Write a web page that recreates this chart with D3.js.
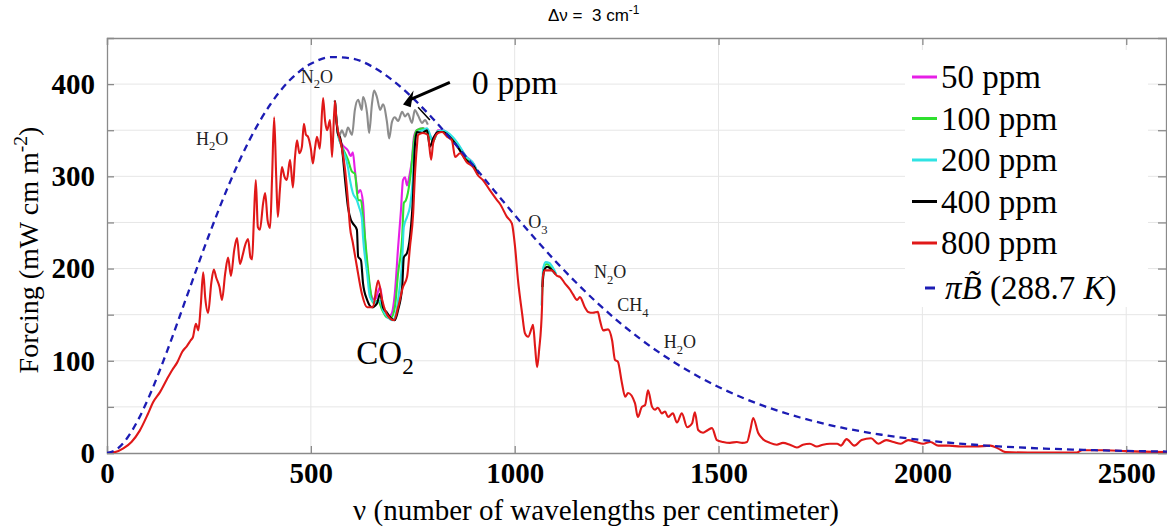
<!DOCTYPE html>
<html>
<head>
<meta charset="utf-8">
<script src="https://cdn.jsdelivr.net/npm/d3@7"></script>
<style>
  body { margin: 0; background: #fff; }
  svg { display: block; }
</style>
</head>
<body>
<div id="chart"></div>
<script>
/***** Data : [wavenumber cm-1, forcing mW m-2 (cm-1)-1] *****/
var ppm800 = [[0,0],[20,1],[40,5],[60,12],[80,24],[100,42],[113,55],[130,66],[147,80],[160,90],[172,98],[185,110],[196,116],[205,122],[211,126],[218,140],[224,133],[230,160],[236,196],[241,168],[248,152],[256,185],[262,199],[268,190],[276,180],[282,166],[290,195],[297,212],[304,192],[312,220],[319,233],[326,205],[333,215],[338,224],[346,232],[352,212],[356,210],[360,250],[365,296],[370,245],[375,242],[383,271],[388,282],[394,252],[400,244],[405,300],[410,364],[415,300],[419,256],[424,285],[429,310],[435,300],[441,296],[449,318],[456,288],[461,320],[466,339],[472,325],[478,332],[483,357],[488,345],[493,343],[500,330],[505,314],[510,330],[515,343],[522,330],[530,385],[535,360],[540,350],[547,361],[552,321],[559,382],[563,360],[567,348],[576,331],[584,307],[591,274],[596,245],[603,228],[613,202],[625,173],[638,158],[652,158],[665,187],[675,166],[682,155],[694,146],[704,144],[714,158],[726,180],[736,191],[743,223],[751,260],[755,299],[760,332],[763,345],[775,347],[787,345],[795,318],[800,336],[812,347],[822,348],[834,343],[846,339],[854,321],[866,325],[883,315],[898,310],[910,301],[922,296],[939,285],[957,274],[964,270],[981,256],[993,249],[1001,223],[1008,188],[1018,152],[1025,130],[1033,126],[1042,136],[1045,139],[1050,115],[1055,93],[1060,112],[1067,158],[1069,191],[1074,198],[1079,198],[1091,198],[1104,192],[1111,191],[1123,184],[1136,177],[1143,172],[1153,166],[1160,169],[1172,158],[1180,153],[1192,152],[1204,153],[1209,144],[1217,133],[1229,134],[1239,122],[1246,101],[1253,99],[1263,76],[1271,61],[1278,65],[1295,54],[1302,39],[1312,50],[1320,52],[1327,68],[1337,50],[1344,47],[1351,49],[1361,43],[1369,45],[1376,39],[1388,43],[1398,33],[1410,43],[1423,28],[1435,32],[1442,44],[1450,25],[1462,22],[1474,25],[1484,27],[1496,14],[1511,12],[1528,11],[1545,12],[1558,11],[1570,12],[1578,25],[1585,38],[1597,22],[1609,15],[1626,11],[1643,9],[1658,11],[1675,9],[1692,6],[1707,9],[1724,10],[1741,7],[1756,9],[1773,10],[1791,10],[1800,8],[1814,15],[1833,8],[1851,14],[1874,16],[1892,10],[1911,14],[1929,12],[1947,10],[1965,14],[1984,12],[2002,10],[2020,12],[2039,8],[2066,8],[2094,7],[2131,7],[2167,8],[2185,5],[2204,1],[2259,0.5],[2378,0.5],[2392,3],[2450,3],[2500,2],[2600,1]];

var ppm400 = [[559,382],[567,345],[571,343],[576,332],[584,296],[591,267],[598,253],[603,249],[613,242],[616,213],[623,209],[628,184],[638,166],[650,158],[662,162],[670,173],[677,158],[687,152],[697,146],[706,144],[714,155],[724,180],[728,212],[736,217],[743,234],[751,282],[755,332],[760,348],[773,347],[785,350],[792,332],[800,341],[812,348],[824,348],[840,343],[860,332],[880,318],[900,311],[910,302],[920,null],[1068,180],[1072,198],[1080,202],[1090,199],[1100,194]];

var ppm200 = [[559,382],[567,345],[576,332],[591,310],[596,296],[603,282],[613,274],[618,267],[625,255],[628,234],[638,195],[645,169],[657,163],[670,165],[677,155],[689,147],[701,144],[709,152],[716,173],[724,209],[728,245],[736,256],[743,267],[751,303],[755,336],[763,348],[775,350],[785,352],[800,338],[812,349],[824,350],[840,346],[860,336],[880,322],[900,313],[910,303],[920,null],[1066,160],[1070,200],[1076,207],[1085,206],[1095,200],[1102,194]];

var ppm100 = [[559,382],[567,345],[576,333],[591,318],[601,305],[608,303],[616,274],[623,274],[628,256],[638,209],[645,180],[652,163],[665,165],[675,155],[687,147],[697,147],[706,158],[714,195],[724,234],[728,271],[733,274],[738,282],[746,307],[753,339],[760,350],[775,352],[787,347],[800,338],[812,349],[824,349],[840,344],[860,333],[880,320],[900,312],[910,302],[920,null],[1067,170],[1072,203],[1080,205],[1090,200],[1100,195]];

var ppm50 = [[559,382],[567,345],[576,335],[591,328],[598,322],[603,326],[608,307],[616,282],[621,285],[628,271],[633,231],[640,195],[650,169],[657,166],[670,180],[677,158],[689,147],[699,152],[706,173],[714,223],[721,263],[726,296],[731,299],[736,290],[741,299],[748,318],[753,343],[760,350],[775,352],[787,348],[800,340],[812,350],[824,350],[840,345],[860,335],[880,322],[900,313],[910,303]];

var ppm0 = [[567,348],[571,345],[576,350],[584,343],[591,353],[601,345],[608,372],[616,383],[625,372],[628,386],[638,368],[643,347],[650,379],[655,393],[662,386],[670,372],[677,378],[687,358],[692,341],[699,359],[706,364],[714,360],[724,370],[731,365],[738,368],[748,358],[755,372],[763,366],[773,358],[780,361],[787,356]];

var planck = [[0,0],[25,4.4],[50,16.5],[75,34.8],[100,57.9],[150,113.6],[200,175.1],[250,236.1],[300,292.0],[350,339.8],[400,377.6],[450,405.0],[500,422.0],[550,429.3],[600,427.9],[650,419.1],[700,404.3],[750,384.9],[800,362.2],[850,337.2],[900,311.0],[950,284.4],[1000,258.0],[1050,232.4],[1100,208.0],[1150,185.1],[1200,163.8],[1300,126.4],[1400,95.9],[1500,71.6],[1600,52.8],[1700,38.5],[1800,27.7],[1900,19.8],[2000,14.05],[2100,9.9],[2200,6.9],[2300,4.8],[2400,3.3],[2500,2.3],[2600,1.55]];

var xTicks = [0, 500, 1000, 1500, 2000, 2500];
var yTicks = [0, 50, 100, 150, 200, 250, 300, 350, 400];
var legendLabels = ['50 ppm', '100 ppm', '200 ppm', '400 ppm', '800 ppm'];
var gasLabels = [
  {t: 'H_2O', nu: 258, f: 341}, {t: 'N_2O', nu: 515, f: 408},
  {t: 'O_3', nu: 1057, f: 250}, {t: 'N_2O', nu: 1234, f: 196},
  {t: 'CH_4', nu: 1290, f: 160}, {t: 'H_2O', nu: 1405, f: 120}
];

/***** Helpers *****/
// "_2" -> subscript, "^-2" -> superscript
function addRich(t, str, size) {
    var shift = 0;
    str.split(/(_[0-9]+|\^[-0-9]+)/).forEach(function(part) {
        if (!part) return;
        var target = 0, txt = part, small = false;
        if (part[0] === '_') { target = size * 0.3; txt = part.slice(1); small = true; }
        else if (part[0] === '^') { target = -size * 0.4; txt = part.slice(1); small = true; }
        var ts = t.append('tspan').attr('dy', target - shift).text(txt);
        if (small) ts.style('font-size', (size * 0.7) + 'px');
        shift = target;
    });
}

(function (d3) {
    var W = 1167, H = 529;
    var left = 107, right = 1167, top = 38, bottom = 453;
    var serif = "'Liberation Serif', 'Times New Roman', serif";

    var svg = d3.select('#chart').append('svg').attr('width', W).attr('height', H);
    var x = d3.scaleLinear().domain([0, 2600]).range([left, right]);
    var y = d3.scaleLinear().domain([0, 450]).range([bottom, top]);

    svg.append('clipPath').attr('id', 'plot')
       .append('rect').attr('x', left).attr('y', top).attr('width', right - left).attr('height', bottom - top);

    /***** grid *****/
    svg.append('g').selectAll('line').data(yTicks.slice(1)).enter().append('line')
       .attr('x1', left).attr('x2', right)
       .attr('y1', function(d) { return y(d); }).attr('y2', function(d) { return y(d); })
       .attr('stroke', '#e6e6e6').attr('stroke-width', 1);
    svg.append('g').selectAll('line').data(xTicks.slice(1)).enter().append('line')
       .attr('y1', top).attr('y2', bottom)
       .attr('x1', function(d) { return x(d); }).attr('x2', function(d) { return x(d); })
       .attr('stroke', '#e6e6e6').attr('stroke-width', 1);

    /***** axes *****/
    var gx = svg.append('g').attr('transform', 'translate(0,' + bottom + ')')
                .call(d3.axisBottom(x).tickValues(xTicks).tickSize(-7).tickPadding(12)
                .tickFormat(d3.format('d')));
    var gy = svg.append('g').attr('transform', 'translate(' + left + ',0)')
                .call(d3.axisLeft(y).tickValues(yTicks).tickSize(-7).tickPadding(12)
                .tickFormat(function(d) { return d % 100 === 0 ? d : ''; }));
    var gt = svg.append('g').attr('transform', 'translate(0,' + top + ')')
                .call(d3.axisTop(x).tickValues(xTicks).tickSize(-7).tickFormat(''));
    var gr = svg.append('g').attr('transform', 'translate(' + (right - 1) + ',0)')
                .call(d3.axisRight(y).tickValues(yTicks).tickSize(-8).tickFormat(''));
    [gx, gy, gt, gr].forEach(function(g) {
        g.selectAll('path, line').attr('stroke', '#8a8a8a').attr('stroke-width', 1.3);
        g.selectAll('text').attr('font-family', serif).attr('font-size', 29)
         .attr('font-weight', 'bold').attr('fill', '#000');
    });
    gx.selectAll('text').attr('dy', '0.62em');

    /***** lines *****/
    var line = d3.line()
                 .defined(function(d) { return d[1] !== null; })
                 .x(function(d) { return x(d[0]); })
                 .y(function(d) { return y(d[1]); })
                 .curve(d3.curveMonotoneX);
    var plot = svg.append('g').attr('clip-path', 'url(#plot)');
    var series = [
        {data: ppm0, color: '#8c8c8c'},
        {data: ppm50, color: '#e61fe6'},
        {data: ppm100, color: '#2fe02f'},
        {data: ppm200, color: '#2fe3e3'},
        {data: ppm400, color: '#000000'},
        {data: ppm800, color: '#e01818'}
    ];
    series.forEach(function(s) {
        plot.append('path').datum(s.data).attr('d', line)
            .attr('fill', 'none').attr('stroke', s.color).attr('stroke-width', 2.1)
            .attr('stroke-linejoin', 'round');
    });
    plot.append('path').datum(planck).attr('d', line)
        .attr('fill', 'none').attr('stroke', '#1c1cb4').attr('stroke-width', 2.3)
        .attr('stroke-dasharray', '7,5');

    /***** annotations *****/
    gasLabels.forEach(function(g) {
        var t = svg.append('text').attr('x', x(g.nu)).attr('y', y(g.f) + 6)
                   .attr('text-anchor', 'middle').attr('font-family', serif)
                   .attr('font-size', 18).attr('fill', '#222');
        addRich(t, g.t, 18);
    });
    var co2 = svg.append('text').attr('x', x(682)).attr('y', y(109) + 12)
                 .attr('text-anchor', 'middle').attr('font-family', serif).attr('font-size', 33);
    addRich(co2, 'CO_2', 33);
    svg.append('text').attr('x', x(1000)).attr('y', y(402) + 12).attr('text-anchor', 'middle')
       .attr('font-family', serif).attr('font-size', 34).text('0 ppm');
    svg.append('line').attr('x1', x(841)).attr('y1', y(402)).attr('x2', x(742)).attr('y2', y(383))
       .attr('stroke', '#000').attr('stroke-width', 3);
    var ah = [[x(726), y(378)], [x(752), y(393)], [x(745), y(375)]];
    svg.append('path').attr('d', 'M' + ah.join('L') + 'Z').attr('fill', '#000');
    svg.append('line').attr('x1', x(763)).attr('y1', y(375)).attr('x2', x(792)).attr('y2', y(361))
       .attr('stroke', '#000').attr('stroke-width', 1.5);

    /***** title and axis labels *****/
    var title = svg.append('text').attr('x', 548).attr('y', 21)
                   .attr('font-family', "'Liberation Sans', Arial, sans-serif").attr('font-size', 17)
                   .attr('xml:space', 'preserve');
    addRich(title, '\u0394\u03bd =  3 cm^-1', 17);
    svg.append('text').attr('x', 596).attr('y', 520).attr('text-anchor', 'middle')
       .attr('font-family', serif).attr('font-size', 29)
       .text('\u03bd (number of wavelengths per centimeter)');
    var yl = svg.append('text').attr('transform', 'translate(38,250) rotate(-90)')
                .attr('text-anchor', 'middle').attr('font-family', serif).attr('font-size', 28);
    addRich(yl, 'Forcing (mW cm m^-2)', 28);

    /***** legend *****/
    var lg = svg.append('g');
    lg.append('rect').attr('x', 905).attr('y', 50).attr('width', 243).attr('height', 257).attr('fill', '#fff');
    var rows = legendLabels.map(function(l, i) { return {label: l, color: series[i + 1].color}; });
    rows.forEach(function(r, i) {
        var cy = 77 + i * 41.5;
        lg.append('line').attr('x1', 912).attr('x2', 937).attr('y1', cy).attr('y2', cy)
          .attr('stroke', r.color).attr('stroke-width', 3);
        lg.append('text').attr('x', 941).attr('y', cy + 11).attr('font-family', serif)
          .attr('font-size', 33).text(r.label);
    });
    lg.append('line').attr('x1', 925).attr('x2', 935).attr('y1', 288).attr('y2', 288)
      .attr('stroke', '#1c1cb4').attr('stroke-width', 3);
    var bt = lg.append('text').attr('x', 945).attr('y', 299).attr('font-family', serif).attr('font-size', 33);
    bt.append('tspan').attr('font-style', 'italic').text('\u03c0');
    bt.append('tspan').attr('font-style', 'italic').text('B\u0303');
    bt.append('tspan').text(' (288.7 ');
    bt.append('tspan').attr('font-style', 'italic').text('K');
    bt.append('tspan').text(')');
})(d3);
</script>
</body>
</html>
